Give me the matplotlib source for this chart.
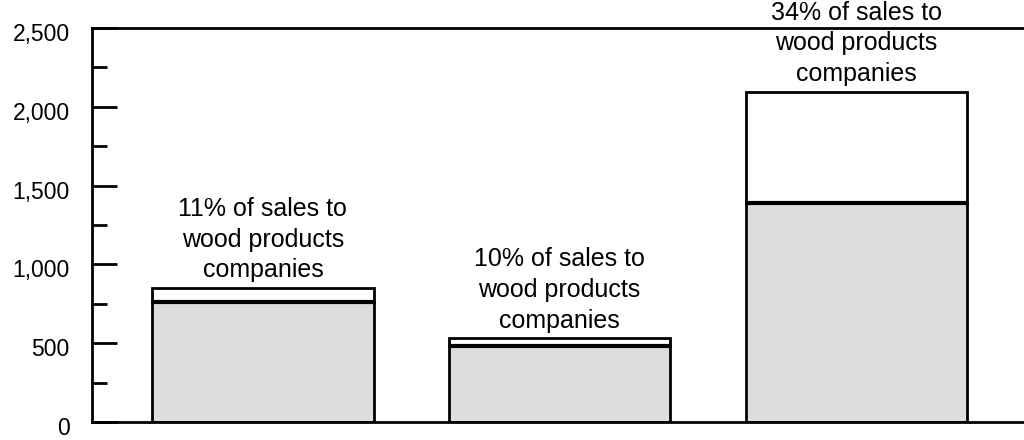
import matplotlib
matplotlib.use("Agg")
import matplotlib.pyplot as plt
import matplotlib.transforms as mtransforms

plt.rcParams['font.family'] = ['Liberation Sans', 'DejaVu Sans']

categories = ["A", "B", "C"]
other_sales = [760, 480, 1390]
wood_sales = [90, 51, 705]
labels = ["11% of sales to\nwood products\ncompanies",
          "10% of sales to\nwood products\ncompanies",
          "34% of sales to\nwood products\ncompanies"]
yticks_major = [0, 500, 1000, 1500, 2000, 2500]
ytick_labels = ["0", "500", "1,000", "1,500", "2,000", "2,500"]
yticks_minor = [250, 750, 1250, 1750, 2250]

fig = plt.figure(figsize=(10.24, 4.4), dpi=100)
ax = fig.add_axes([92/1024, 18/440, 932/1024, 394/440])

width = 0.747
x = list(range(len(categories)))
totals = [a + b for a, b in zip(other_sales, wood_sales)]
ax.bar(x, other_sales, width=width, color='#dddddd', edgecolor='black', linewidth=2, zorder=2)
ax.bar(x, wood_sales, bottom=other_sales, width=width, color='white', edgecolor='black', linewidth=2, zorder=2)
ax.hlines(other_sales, [xi - width / 2 for xi in x], [xi + width / 2 for xi in x],
          colors='black', linewidth=3, zorder=3)

for xi, t, lab in zip(x, totals, labels):
    ax.annotate(lab, (xi, t), xytext=(0, 4), textcoords='offset points',
                ha='center', va='bottom', fontsize=18, linespacing=1.36, clip_on=False)

ax.set_xlim(-0.576, 2.565)
ax.set_ylim(0, 2500)
ax.set_yticks(yticks_major)
ax.set_yticklabels(ytick_labels)
ax.set_yticks(yticks_minor, minor=True)
ax.set_xticks([])
ax.tick_params(axis='y', which='major', direction='in', length=18, width=2, labelsize=16.5, pad=16)
ax.tick_params(axis='y', which='minor', direction='in', length=10.5, width=2)
for lab in ax.get_yticklabels():
    lab.set_transform(lab.get_transform() + mtransforms.ScaledTranslation(0, -4/100, fig.dpi_scale_trans))

ax.spines['right'].set_visible(False)
for s in ['left', 'top', 'bottom']:
    ax.spines[s].set_linewidth(2)

fig.savefig("out.png", dpi=100)
